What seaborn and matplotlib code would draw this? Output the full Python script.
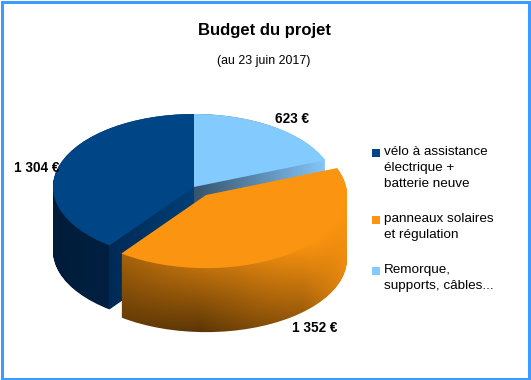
import numpy as np
import matplotlib
matplotlib.use("Agg")
import matplotlib.pyplot as plt
from matplotlib.patches import Rectangle, Wedge
from matplotlib.path import Path
from matplotlib.legend_handler import HandlerPatch
from matplotlib.colors import to_rgb
import seaborn as sns

# ---- data ----
categories = ["vélo à assistance\nélectrique +\nbatterie neuve",
              "panneaux solaires\net régulation",
              "Remorque,\nsupports, câbles..."]
values = [1304, 1352, 623]
slice_colors = ["#004586", "#fb9410", "#83caff"]
explode = [0, 0.14, 0]
title = "Budget du projet"
subtitle = "(au 23 juin 2017)"
label_pos = [(37, 168), (315, 328), (292, 119)]

W, H = 531, 380
CX, CY, RX, RY = 194, 187, 141, 73   # pixel geometry of the ellipse
DEPTH_PX = 64

sns.set_theme(style="white")
plt.rcParams["font.family"] = ["Liberation Sans", "DejaVu Sans"]
palette = sns.color_palette(slice_colors)

fig = plt.figure(figsize=(W / 100, H / 100), dpi=100, facecolor="white")
ax = fig.add_axes([0, 0, 1, 1])

wedges, _ = ax.pie(values, colors=palette, startangle=90, counterclock=True,
                   explode=explode, radius=1, wedgeprops=dict(linewidth=0),
                   normalize=True)

x0, x1 = (0 - CX) / RX, (W - CX) / RX
y0, y1 = (CY - H) / RY, CY / RY
ax.set_aspect("auto")
ax.set_xlim(x0, x1)
ax.set_ylim(y0, y1)
ax.axis("off")

depth = DEPTH_PX / RY
px = (np.arange(W) + 0.5) / W * (x1 - x0) + x0
py = y1 - (np.arange(H) + 0.5) / H * (y1 - y0)
X, Y = np.meshgrid(px, py)


def sweep(w):
    p = w.get_path()
    copies = [Path(p.vertices + [0, -depth * i / DEPTH_PX], p.codes)
              for i in range(DEPTH_PX + 1)]
    return Path.make_compound_path(*copies)


def wall(w, field, z):
    im = ax.imshow(field, extent=(x0, x1, y0, y1), aspect="auto",
                   interpolation="bilinear", zorder=z)
    im.set_clip_path(sweep(w), transform=ax.transData)


def mix(a, b, t):
    a, b = np.array(to_rgb(a)), np.array(to_rgb(b))
    t = np.clip(t, 0, 1)[..., None]
    return a * (1 - t) + b * t


angle_end = np.deg2rad(90 + 360 * values[0] / sum(values))

# dark-blue slice: outer wall + radial cut face
xe = np.cos(angle_end)
blue = mix("#001c3a", "#00264c", (X + 1) / 1.0)
face = mix("#002a56", "#003f76", (X - xe) / (0 - xe))
blue = np.where((X > xe)[..., None], face, blue)
wall(wedges[0], blue, 1)

# light-blue slice: radial cut face visible behind the orange slice
wall(wedges[2], mix("#35536c", "#85c6f8", X / 0.93), 1)

# orange slice: shaded wall
c = wedges[1].center
u = np.clip((X - (c[0] - 0.6)) / 1.6, 0, 1)
rim = c[1] - np.sqrt(np.clip(1 - (X - c[0]) ** 2, 0, 1))
v = np.clip((rim - Y) / depth, 0, 1)
m_top = np.interp(u, [0, 0.5, 0.85, 1], [0.66, 0.80, 1.0, 1.0])
m_bot = np.interp(u, [0, 0.35, 0.8, 1], [0.42, 0.36, 0.62, 0.95])
m = m_top * (1 - v) + m_bot * v
wall(wedges[1], np.array(to_rgb(slice_colors[1]))[None, None, :] * m[..., None], 3)

for w, z in zip(wedges, [2, 4, 2]):
    w.set_zorder(z)

ax.set_xlim(x0, x1)
ax.set_ylim(y0, y1)


def to_fig(x, y):
    return x / W, 1 - y / H


# value labels
for v_, (lx, ly) in zip(values, label_pos):
    fx, fy = to_fig(lx, ly)
    fig.text(fx, fy, f"{v_:,}".replace(",", " ") + " €", ha="center", va="center",
             fontsize=9.8, fontweight="bold", color="black")

# titles
fx, fy = to_fig(265, 30)
fig.suptitle(title, x=fx, y=fy, ha="center", va="center",
             fontsize=12, fontweight="bold", color="black")
fx, fy = to_fig(264, 61)
fig.text(fx, fy, subtitle, ha="center", va="center", fontsize=8.9, color="black")


# legend: square aligned on the first line of each entry
FS = 9.7
LINE = 16 * 0.72


def make_handler(n):
    def patch(legend, orig_handle, xdescent, ydescent, width, height, fontsize):
        return Rectangle((xdescent, ydescent + (n - 1) / 2 * LINE), width, width)
    return HandlerPatch(patch_func=patch)


handler_map = {w: make_handler(t.count("\n") + 1) for w, t in zip(wedges, categories)}
leg = ax.legend(wedges, categories, handler_map=handler_map, loc="upper left",
                bbox_to_anchor=(372 / W, 1 - 146 / H), bbox_transform=fig.transFigure,
                frameon=False, fontsize=FS, handlelength=0.6, handleheight=0.6,
                handletextpad=0.3, labelspacing=1.75, borderpad=0, borderaxespad=0,
                labelcolor="black")
leg.set_zorder(6)
for t in leg.get_texts():
    t.set_linespacing(1.42)

# frame
fig.add_artist(Rectangle((1.5 / W, 1 - 378.5 / H), 527.5 / W, 377 / H,
                         transform=fig.transFigure, fill=False,
                         edgecolor="#3d9bff", linewidth=3 * 0.72))

fig.savefig("out.png", dpi=100, facecolor="white")
